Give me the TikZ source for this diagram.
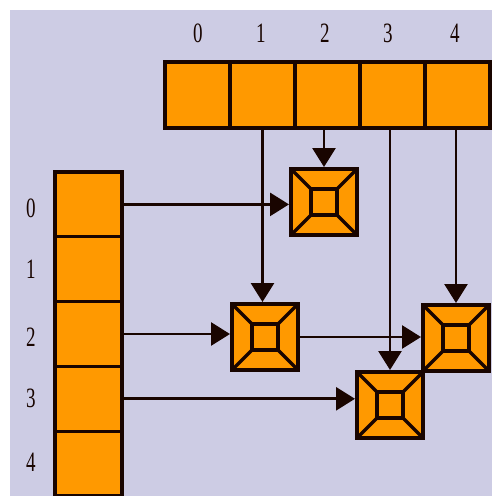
\documentclass[tikz,border=0pt]{standalone}
\usepackage{fontspec}
\usepackage{graphicx}
\setmainfont{Liberation Serif}
\usetikzlibrary{arrows.meta,calc}
\definecolor{bgc}{RGB}{205,204,228}
\definecolor{cellc}{RGB}{255,153,0}
\definecolor{ink}{RGB}{25,5,0}
\newcommand\dig[1]{\scalebox{0.68}[1]{#1}}
\begin{document}
\begin{tikzpicture}[x=1pt,y=-1pt,
  topcell/.style={draw=ink, fill=cellc, line width=3.2pt, minimum width=65pt, minimum height=66pt, inner sep=0pt},
  leftcell/.style={draw=ink, fill=cellc, line width=3.2pt, minimum width=67pt, minimum height=64.8pt, inner sep=0pt},
  xnode/.style={draw=ink, fill=cellc, line width=4pt, minimum size=66pt, inner sep=0pt,
    path picture={
      \draw[ink, line width=3.2pt]
        (path picture bounding box.north west) -- ($(path picture bounding box.center)+(-13,-13)$)
        (path picture bounding box.north east) -- ($(path picture bounding box.center)+(13,-13)$)
        (path picture bounding box.south west) -- ($(path picture bounding box.center)+(-13,13)$)
        (path picture bounding box.south east) -- ($(path picture bounding box.center)+(13,13)$);
      \draw[ink, line width=3.2pt]
        ($(path picture bounding box.center)+(-13,-13)$) rectangle ($(path picture bounding box.center)+(13,13)$);
    }},
  conn/.style={ink, line width=2.8pt, -{Triangle[length=19pt,width=23pt]}},
  lbl/.style={font=\fontsize{28}{28}\selectfont, inner sep=0pt, text=ink}
]
\useasboundingbox (0,0) rectangle (492,496);
\fill[white] (0,0) rectangle (492,496);
\fill[bgc] (10,10) rectangle (492,496);

% top array
\foreach \i in {0,...,4} {
  \node[topcell] (t\i) at ({197.5+65*\i},95) {};
}
\node[lbl] (tl0) at (198,33) {\dig{0}};
\node[lbl] (tl1) at (261,33) {\dig{1}};
\node[lbl] (tl2) at (325,33) {\dig{2}};
\node[lbl] (tl3) at (388,33) {\dig{3}};
\node[lbl] (tl4) at (455,33) {\dig{4}};

% left array
\foreach \i in {0,...,4} {
  \node[leftcell] (l\i) at (88.5,{204.4+64.8*\i}) {};
}
\node[lbl] (ll0) at (31,208) {\dig{0}};
\node[lbl] (ll1) at (31,269) {\dig{1}};
\node[lbl] (ll2) at (31,337) {\dig{2}};
\node[lbl] (ll3) at (31,398) {\dig{3}};
\node[lbl] (ll4) at (31,462) {\dig{4}};

% cross-linked nodes
\node[xnode] (n02) at (324,202) {};
\node[xnode] (n21) at (265,337) {};
\node[xnode] (n24) at (456,338) {};
\node[xnode] (n33) at (390,405) {};

% column connectors
\draw[conn] (t1.south) -- (t1.south |- n21.north);
\draw[conn] (n02.north |- t2.south) -- (n02.north);
\draw[conn] (n33.north |- t3.south) -- (n33.north);
\draw[conn] (n24.north |- t4.south) -- (n24.north);

% row connectors
\draw[conn] (l0.east) -- (l0.east -| n02.west);
\draw[conn] (l2.east) -- (l2.east -| n21.west);
\draw[conn] (l3.east) -- (l3.east -| n33.west);
\draw[conn] (n21.east) -- (n21.east -| n24.west);
\end{tikzpicture}
\end{document}
